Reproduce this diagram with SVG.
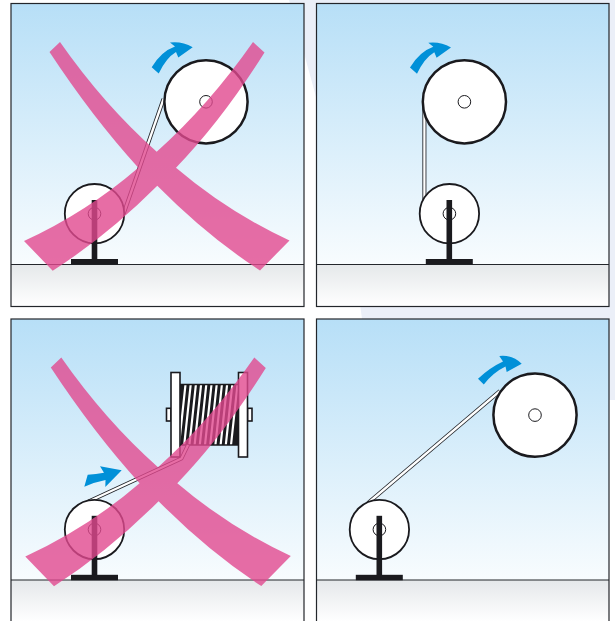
<svg xmlns="http://www.w3.org/2000/svg" xmlns:xlink="http://www.w3.org/1999/xlink" width="615" height="621" viewBox="0 0 615 621">
<style>
.sky{fill:url(#sky)}
.ground{fill:url(#gnd)}
.frame{fill:none;stroke:#23262b;stroke-width:1.2}
.line{fill:none;stroke:#23262b;stroke-width:1.2}
.big{fill:#fff;stroke:#1a1a1e;stroke-width:2.5}
.small{fill:#fff;stroke:#1a1a1e;stroke-width:1.8}
.hub{fill:#fff;stroke:#1a1a1e;stroke-width:1}
.hubs{fill:none;stroke:#1a1a1e;stroke-width:1}
.dark{fill:#1a1a1e}
.wo{fill:none;stroke:#1f2126;stroke-width:4;stroke-linejoin:round}
.wi{fill:none;stroke:#fff;stroke-width:2.3;stroke-linejoin:round}
.arrow{fill:#0090d8}
.cross{fill:#e1498f;fill-opacity:.8}
.fl{fill:#fff;stroke:#1a1a1e;stroke-width:1.6}
.st{stroke:#fff;stroke-width:2.2;fill:none}
</style>
<defs>
<linearGradient id="sky" x1="0" y1="0" x2="0" y2="1"><stop offset="0" stop-color="#b7dff7"/><stop offset="1" stop-color="#f8fcfe"/></linearGradient>
<linearGradient id="gnd" x1="0" y1="0" x2="0" y2="1"><stop offset="0" stop-color="#e5e8ea"/><stop offset="1" stop-color="#ffffff"/></linearGradient>
<path id="x" d="M60,42Q104,105 156.7,151.7Q209,105 253,42L264.5,52.5Q222,120 176,167.7Q228,212 289.5,240.5L260,270.5Q207,236 157.3,185.7Q107,236 52.7,270.7L24,241Q87,212 138.3,167.7Q93,118 49.5,52Z"/>
<path id="curved" d="M151.7,67.3Q161,51.5 175,46.5L170,42.5Q182,41 192.7,47.3L178.3,57.5L176,52Q166,58 158.7,73.5Z"/>
<g id="stand"><rect x="-2.8" y="-13.5" width="5.6" height="60" class="dark"/><rect x="-23.5" y="45.5" width="47" height="5.5" class="dark"/></g>
</defs>
<path d="M289,0H615V400H609V319H362L360,304H316V97Q306,60 289,0Z" fill="#ebeff8"/>
<g id="panel-1">
<rect class="sky" x="11" y="3.5" width="293" height="261"/>
<rect class="ground" x="11" y="264.5" width="293" height="42"/>
<rect class="frame" x="11" y="3.5" width="293" height="303"/>
<path class="line" d="M11,264.5H304"/>
<path class="wo" d="M163.5,99L123.5,214"/><path class="wi" d="M163.5,99L123.5,214"/>
<circle class="big" cx="206" cy="101.8" r="41.6"/><circle class="hub" cx="206" cy="101.8" r="6.3"/>
<circle class="small" cx="94.5" cy="213.7" r="29.7"/><circle class="hubs" cx="94.5" cy="213.7" r="6.3"/>
<use xlink:href="#stand" x="94.5" y="213.5"/>
<use xlink:href="#curved" class="arrow"/>
<use xlink:href="#x" class="cross"/>
</g>
<g id="panel-2">
<rect class="sky" x="316.5" y="3.5" width="292.5" height="261"/>
<rect class="ground" x="316.5" y="264.5" width="292.5" height="42"/>
<rect class="frame" x="316.5" y="3.5" width="292.5" height="303"/>
<path class="line" d="M316.5,264.5H609"/>
<path class="wo" d="M424.4,100V200"/><path class="wi" d="M424.4,100V200"/>
<circle class="big" cx="464.4" cy="101.8" r="41.6"/><circle class="hub" cx="464.4" cy="101.8" r="6.3"/>
<circle class="small" cx="449.4" cy="213.7" r="29.7"/><circle class="hubs" cx="449.4" cy="213.7" r="6.3"/>
<use xlink:href="#stand" x="449.3" y="213.5"/>
<use xlink:href="#curved" class="arrow" x="258.3" y="0.3"/>
</g>
<g id="panel-3">
<rect class="sky" x="11" y="319" width="293" height="261"/>
<rect class="ground" x="11" y="580" width="293" height="42"/>
<rect class="frame" x="11" y="319" width="293" height="310"/>
<path class="line" d="M11,580H304"/>
<g id="spool">
<rect x="180" y="384.5" width="58" height="60.5" fill="#1a1a1e"/>
<path class="st" d="M185.5,384.5L179,445M190.7,384.5L184.2,445M195.9,384.5L189.4,445M201.1,384.5L194.6,445M206.3,384.5L199.8,445M211.5,384.5L205,445M216.7,384.5L210.2,445M221.9,384.5L215.4,445M227.1,384.5L220.6,445M232.3,384.5L225.8,445M237.5,384.5L231,445"/>
<path d="M180,384.5H238M180,445H238" stroke="#1a1a1e" stroke-width="1.6" fill="none"/>
<rect class="fl" x="166.5" y="408.3" width="4.5" height="12.7"/>
<rect class="fl" x="247.5" y="408.3" width="4.5" height="12.7"/>
<rect class="fl" x="171" y="372.5" width="9" height="84.5"/>
<rect class="fl" x="238.5" y="372.5" width="9" height="84.5"/>
</g>
<path class="wo" d="M88.5,501.5L181.5,458.5L188,445"/><path class="wi" d="M88.5,501.5L181.5,458.5L188,445"/>
<circle class="small" cx="94.5" cy="529.5" r="29.7"/><circle class="hubs" cx="94.5" cy="529.5" r="6.3"/>
<use xlink:href="#stand" x="94.5" y="529.3"/>
<path class="arrow" d="M87.7,474.7Q96,474 104,472.7L100,466.3L121.7,470.3L105.3,487L105.5,480Q95,482 84.3,486.7Z"/>
<use xlink:href="#x" class="cross" x="1.3" y="315.5"/>
</g>
<g id="panel-4">
<rect class="sky" x="316.5" y="319" width="292.5" height="261"/>
<rect class="ground" x="316.5" y="580" width="292.5" height="42"/>
<rect class="frame" x="316.5" y="319" width="292.5" height="310"/>
<path class="line" d="M316.5,580H609"/>
<path class="wo" d="M368,503L500,391"/><path class="wi" d="M368,503L500,391"/>
<circle class="big" cx="535" cy="415.1" r="41.6"/><circle class="hub" cx="535" cy="415.1" r="6.3"/>
<circle class="small" cx="379.4" cy="529.5" r="29.7"/><circle class="hubs" cx="379.4" cy="529.5" r="6.3"/>
<use xlink:href="#stand" x="379.3" y="529.3"/>
<path class="arrow" d="M478,378.7Q490,367.5 503,361.5L499.3,356Q512,354.5 521.7,363.7L506.7,372L505.5,366.5Q493,372.5 483.8,384.5Z"/>
</g>
</svg>
